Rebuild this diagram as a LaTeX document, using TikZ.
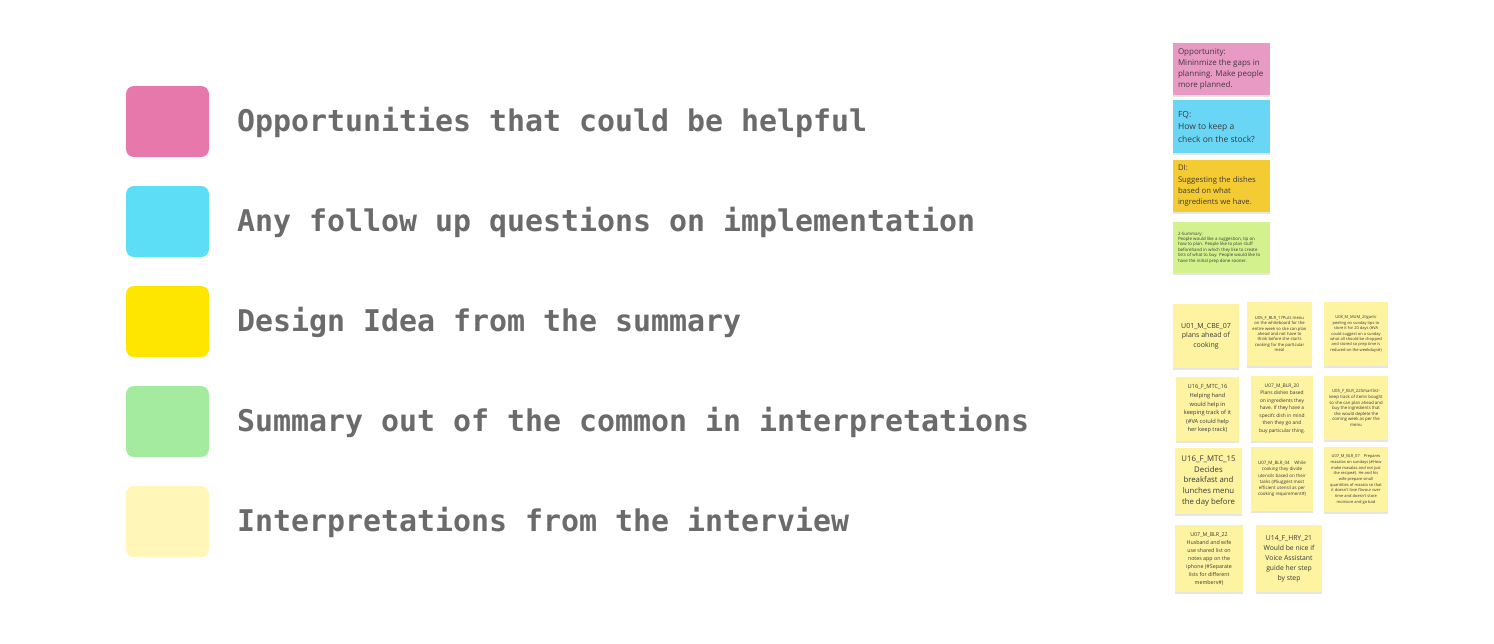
\documentclass[tikz,border=0pt]{standalone}
\usepackage{fontspec}
\newfontfamily\legfont{DejaVu Sans Mono}
\newfontfamily\notefont{Open Sans}
\usetikzlibrary{shadows}
\definecolor{swpink}{HTML}{E678AC}
\definecolor{swcyan}{HTML}{5CDEF7}
\definecolor{swyellow}{HTML}{FFE600}
\definecolor{swgreen}{HTML}{A4EBA0}
\definecolor{swlight}{HTML}{FFF6B8}
\definecolor{legendgray}{HTML}{6B6B6B}
\definecolor{ntpink}{HTML}{E99AC4}
\definecolor{ntcyan}{HTML}{6AD6F5}
\definecolor{ntgold}{HTML}{F5CB33}
\definecolor{ntgreen}{HTML}{D3F28D}
\definecolor{ntyellow}{HTML}{FDF3A0}
\definecolor{notetext}{HTML}{3A3A3A}
\newcommand{\nfs}[2]{\notefont\fontsize{#1}{#2}\selectfont}
\begin{document}
\begin{tikzpicture}[x=1pt,y=-1pt,
  swatch/.style={fill=#1, rounded corners=8pt, minimum width=83pt, minimum height=71pt, inner sep=0pt},
  legtext/.style={anchor=base west, inner sep=0pt, text=legendgray, font=\legfont\bfseries\fontsize{29.9}{32}\selectfont},
  sticky/.style={fill=#1, inner sep=0pt, text=notetext, align=center,
    general shadow={fill=black, opacity=0.10, shadow yshift=-1.5pt, shadow xshift=0pt}},
  ntxt/.style={anchor=west, inner sep=0pt, text=notetext, align=left},
]
\useasboundingbox (0,0) rectangle (1494,643);
% legend
\node[swatch=swpink]   (s1) at (167.5,121.5) {};
\node[swatch=swcyan]   (s2) at (167.5,221.5) {};
\node[swatch=swyellow] (s3) at (167.5,321.5) {};
\node[swatch=swgreen]  (s4) at (167.5,421.5) {};
\node[swatch=swlight]  (s5) at (167.5,521.5) {};
\node[legtext] (l1) at (237,131) {Opportunities that could be helpful};
\node[legtext] (l2) at (237,231) {Any follow up questions on implementation};
\node[legtext] (l3) at (237,331) {Design Idea from the summary};
\node[legtext] (l4) at (237,431) {Summary out of the common in interpretations};
\node[legtext] (l5) at (237,531) {Interpretations from the interview};
% top notes
\node[sticky=ntpink, minimum width=97pt, minimum height=52pt] (opp) at (1221.5,69) {};
\node[ntxt, font=\nfs{8}{11.3}] (oppt) at ([xshift=5pt]opp.west) {Opportunity:\\Mininmize the gaps in\\planning. Make people\\more planned.};
\node[sticky=ntcyan, minimum width=97pt, minimum height=53pt] (fq) at (1221.5,126.5) {};
\node[ntxt, font=\nfs{8.5}{12.5}] (fqt) at ([xshift=5pt]fq.west) {FQ:\\How to keep a\\check on the stock?};
\node[sticky=ntgold, minimum width=97pt, minimum height=52pt] (di) at (1221.5,186) {};
\node[ntxt, font=\nfs{7.7}{11.3}] (dit) at ([xshift=5pt]di.west) {DI:\\Suggesting the dishes\\based on what\\ingredients we have.};
\node[sticky=ntgreen, minimum width=97pt, minimum height=51pt] (sum) at (1221.5,247.5) {};
\node[ntxt, font=\nfs{4.4}{5.4}] (sumt) at ([xshift=5pt]sum.west) {2-Summary:\\People would like a suggestion, tip on\\how to plan. People like to plan stuff\\beforehand in which they like to create\\lists of what to buy. People would like to\\have the initial prep done sooner.};
% interpretation notes
\node[sticky=ntyellow, minimum width=66pt, minimum height=64pt, font=\nfs{7}{9.3}] (n1) at (1206,336) {U01\_M\_CBE\_07\\plans ahead of\\cooking};
\node[sticky=ntyellow, minimum width=65pt, minimum height=64pt, font=\nfs{4.2}{5.4}] (n2) at (1279.5,334) {U05\_F\_BLR\_17Puts menu\\on the whiteboard for the\\entire week so she can plan\\ahead and not have to\\think before she starts\\cooking for the particular\\meal};
\node[sticky=ntyellow, minimum width=64pt, minimum height=64pt, font=\nfs{4.0}{5.4}] (n3) at (1356,334) {U08\_M\_MUM\_20garlic\\peeling on sunday tips to\\store it for 20 days (\#VA\\could suggest on a sunday\\what all should be chopped\\and stored so prep time is\\reduced on the weekdays\#)};
\node[sticky=ntyellow, minimum width=63pt, minimum height=64pt, font=\nfs{5.7}{8.6}] (n4) at (1207.5,409) {U16\_F\_MTC\_16\\Helping hand\\would help in\\keeping track of it\\(\#VA coiuld help\\her keep track)};
\node[sticky=ntyellow, minimum width=62pt, minimum height=65pt, font=\nfs{4.9}{7.5}] (n5) at (1282,408.5) {U07\_M\_BLR\_20\\Plans dishes based\\on ingredients they\\have. If they have a\\specifc dish in mind\\then they go and\\buy particular thing.};
\node[sticky=ntyellow, minimum width=64pt, minimum height=64pt, font=\nfs{4.3}{5.6}] (n6) at (1356,408) {U05\_F\_BLR\_22Smartlist-\\keep track of items bought\\so she can plan ahead and\\buy the ingredients that\\she would deplete the\\coming week as per the\\menu};
\node[sticky=ntyellow, minimum width=67pt, minimum height=66pt, font=\nfs{7.8}{10.6}] (n7) at (1208.5,481) {U16\_F\_MTC\_15\\Decides\\breakfast and\\lunches menu\\the day before};
\node[sticky=ntyellow, minimum width=62pt, minimum height=64pt, font=\nfs{4.5}{6.3}] (n8) at (1282,479) {U07\_M\_BLR\_04\quad While\\cooking they divide\\utensils based on their\\tasks (\#Suggest most\\efficient utensil as per\\cooking requirement\#)};
\node[sticky=ntyellow, minimum width=64pt, minimum height=65pt, font=\nfs{4.0}{5.7}] (n9) at (1356,479.5) {U07\_M\_BLR\_07\quad Prepares\\masalas on sundays (\#How\\make masalas and not just\\the recipe\#). He and his\\wife prepare small\\quantities of masala so that\\it doesn't lose flavour over\\time and doesn't store\\moisture and go bad};
\node[sticky=ntyellow, minimum width=68pt, minimum height=67pt, font=\nfs{5.3}{8}] (n10) at (1209,558.5) {U07\_M\_BLR\_22\\Husband and wife\\use shared list on\\notes app on the\\iphone (\#Separate\\lists for different\\members\#)};
\node[sticky=ntyellow, minimum width=66pt, minimum height=67pt, font=\nfs{6.8}{10}] (n11) at (1289,558.5) {U14\_F\_HRY\_21\\Would be nice if\\Voice Assistant\\guide her step\\by step};
\end{tikzpicture}
\end{document}
